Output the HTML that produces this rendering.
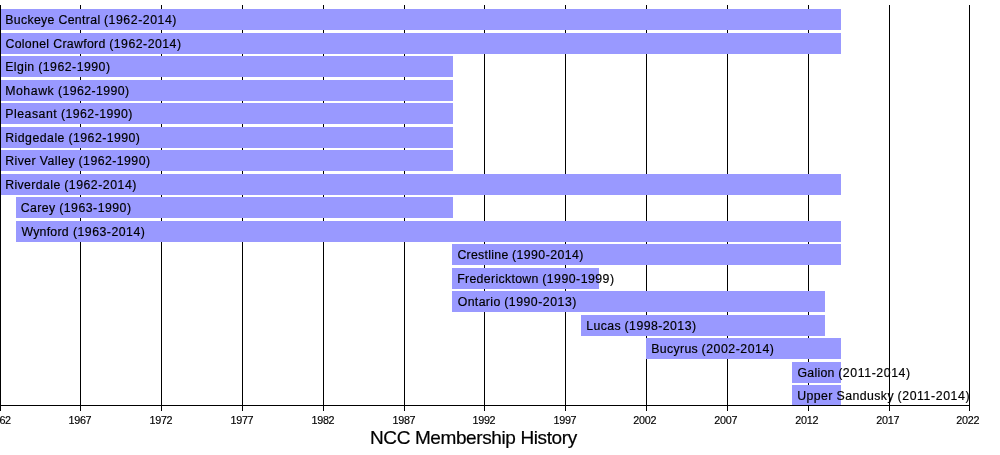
<!DOCTYPE html>
<html><head><meta charset="utf-8"><title>NCC Membership History</title>
<style>html,body{margin:0;padding:0;background:#fff;overflow:hidden}svg{display:block}text{font-family:"Liberation Sans",Arial,Helvetica,sans-serif;fill:#000}</style></head><body>
<svg width="1000" height="455" viewBox="0 0 1000 455">
<rect width="1000" height="455" fill="#fff"/>
<g shape-rendering="crispEdges">
<rect x="80" y="5" width="1" height="406" fill="#000"/>
<rect x="161" y="5" width="1" height="406" fill="#000"/>
<rect x="242" y="5" width="1" height="406" fill="#000"/>
<rect x="323" y="5" width="1" height="406" fill="#000"/>
<rect x="404" y="5" width="1" height="406" fill="#000"/>
<rect x="484" y="5" width="1" height="406" fill="#000"/>
<rect x="565" y="5" width="1" height="406" fill="#000"/>
<rect x="646" y="5" width="1" height="406" fill="#000"/>
<rect x="727" y="5" width="1" height="406" fill="#000"/>
<rect x="808" y="5" width="1" height="406" fill="#000"/>
<rect x="889" y="5" width="1" height="406" fill="#000"/>
<rect x="969" y="5" width="1" height="406" fill="#000"/>
<rect x="0" y="9" width="841" height="21" fill="#9999ff"/>
<rect x="0" y="33" width="841" height="21" fill="#9999ff"/>
<rect x="0" y="56" width="453" height="21" fill="#9999ff"/>
<rect x="0" y="80" width="453" height="21" fill="#9999ff"/>
<rect x="0" y="103" width="453" height="21" fill="#9999ff"/>
<rect x="0" y="127" width="453" height="21" fill="#9999ff"/>
<rect x="0" y="150" width="453" height="21" fill="#9999ff"/>
<rect x="0" y="174" width="841" height="21" fill="#9999ff"/>
<rect x="16" y="197" width="437" height="21" fill="#9999ff"/>
<rect x="16" y="221" width="825" height="21" fill="#9999ff"/>
<rect x="452" y="244" width="389" height="21" fill="#9999ff"/>
<rect x="452" y="268" width="147" height="21" fill="#9999ff"/>
<rect x="452" y="291" width="373" height="21" fill="#9999ff"/>
<rect x="581" y="315" width="244" height="21" fill="#9999ff"/>
<rect x="646" y="338" width="195" height="21" fill="#9999ff"/>
<rect x="792" y="362" width="49" height="21" fill="#9999ff"/>
<rect x="792" y="385" width="49" height="20" fill="#9999ff"/>
<rect x="0" y="5" width="1" height="406" fill="#000"/>
<rect x="0" y="405" width="970" height="1" fill="#000"/>
</g>
<text y="23.70" font-size="12.3" stroke="#000" stroke-width="0.18"><tspan x="5.20" letter-spacing="0.338">Buckeye Central </tspan><tspan x="103.95" letter-spacing="0.550">(1962-2014)</tspan></text>
<text y="47.70" font-size="12.3" stroke="#000" stroke-width="0.18"><tspan x="5.45" letter-spacing="0.328">Colonel Crawford </tspan><tspan x="109.15" letter-spacing="0.490">(1962-2014)</tspan></text>
<text y="70.70" font-size="12.3" stroke="#000" stroke-width="0.18"><tspan x="5.20" letter-spacing="0.415">Elgin </tspan><tspan x="38.15" letter-spacing="0.490">(1962-1990)</tspan></text>
<text y="94.70" font-size="12.3" stroke="#000" stroke-width="0.18"><tspan x="5.20" letter-spacing="0.549">Mohawk </tspan><tspan x="57.95" letter-spacing="0.410">(1962-1990)</tspan></text>
<text y="117.70" font-size="12.3" stroke="#000" stroke-width="0.18"><tspan x="5.20" letter-spacing="0.531">Pleasant </tspan><tspan x="60.95" letter-spacing="0.450">(1962-1990)</tspan></text>
<text y="141.70" font-size="12.3" stroke="#000" stroke-width="0.18"><tspan x="5.20" letter-spacing="0.486">Ridgedale </tspan><tspan x="68.55" letter-spacing="0.430">(1962-1990)</tspan></text>
<text y="164.70" font-size="12.3" stroke="#000" stroke-width="0.18"><tspan x="5.20" letter-spacing="0.426">River Valley </tspan><tspan x="78.55" letter-spacing="0.450">(1962-1990)</tspan></text>
<text y="188.70" font-size="12.3" stroke="#000" stroke-width="0.18"><tspan x="5.20" letter-spacing="0.389">Riverdale </tspan><tspan x="64.15" letter-spacing="0.530">(1962-2014)</tspan></text>
<text y="211.70" font-size="12.3" stroke="#000" stroke-width="0.18"><tspan x="20.85" letter-spacing="0.347">Carey </tspan><tspan x="59.15" letter-spacing="0.490">(1963-1990)</tspan></text>
<text y="235.70" font-size="12.3" stroke="#000" stroke-width="0.18"><tspan x="21.40" letter-spacing="0.257">Wynford </tspan><tspan x="72.95" letter-spacing="0.490">(1963-2014)</tspan></text>
<text y="258.70" font-size="12.3" stroke="#000" stroke-width="0.18"><tspan x="457.45" letter-spacing="0.286">Crestline </tspan><tspan x="511.95" letter-spacing="0.450">(1990-2014)</tspan></text>
<text y="282.70" font-size="12.3" stroke="#000" stroke-width="0.18"><tspan x="457.20" letter-spacing="0.329">Fredericktown </tspan><tspan x="542.15" letter-spacing="0.490">(1990-1999)</tspan></text>
<text y="305.70" font-size="12.3" stroke="#000" stroke-width="0.18"><tspan x="457.70" letter-spacing="0.376">Ontario </tspan><tspan x="504.15" letter-spacing="0.530">(1990-2013)</tspan></text>
<text y="329.70" font-size="12.3" stroke="#000" stroke-width="0.18"><tspan x="586.20" letter-spacing="0.403">Lucas </tspan><tspan x="624.55" letter-spacing="0.450">(1998-2013)</tspan></text>
<text y="352.70" font-size="12.3" stroke="#000" stroke-width="0.18"><tspan x="651.20" letter-spacing="0.352">Bucyrus </tspan><tspan x="701.55" letter-spacing="0.530">(2002-2014)</tspan></text>
<text y="376.70" font-size="12.3" stroke="#000" stroke-width="0.18"><tspan x="797.45" letter-spacing="0.291">Galion </tspan><tspan x="838.15" letter-spacing="0.590">(2011-2014)</tspan></text>
<text y="399.70" font-size="12.3" stroke="#000" stroke-width="0.18"><tspan x="797.20" letter-spacing="0.421">Upper Sandusky </tspan><tspan x="897.55" letter-spacing="0.590">(2011-2014)</tspan></text>
<text x="-0.60" y="423.60" font-size="10.8" text-anchor="middle" letter-spacing="-0.33" stroke="#000" stroke-width="0.15">1962</text>
<text x="79.90" y="423.60" font-size="10.8" text-anchor="middle" letter-spacing="-0.33" stroke="#000" stroke-width="0.15">1967</text>
<text x="160.90" y="423.60" font-size="10.8" text-anchor="middle" letter-spacing="-0.33" stroke="#000" stroke-width="0.15">1972</text>
<text x="241.90" y="423.60" font-size="10.8" text-anchor="middle" letter-spacing="-0.33" stroke="#000" stroke-width="0.15">1977</text>
<text x="322.90" y="423.60" font-size="10.8" text-anchor="middle" letter-spacing="-0.33" stroke="#000" stroke-width="0.15">1982</text>
<text x="403.90" y="423.60" font-size="10.8" text-anchor="middle" letter-spacing="-0.33" stroke="#000" stroke-width="0.15">1987</text>
<text x="483.90" y="423.60" font-size="10.8" text-anchor="middle" letter-spacing="-0.33" stroke="#000" stroke-width="0.15">1992</text>
<text x="564.90" y="423.60" font-size="10.8" text-anchor="middle" letter-spacing="-0.33" stroke="#000" stroke-width="0.15">1997</text>
<text x="644.75" y="423.60" font-size="10.8" text-anchor="middle" letter-spacing="-0.25" stroke="#000" stroke-width="0.15">2002</text>
<text x="725.75" y="423.60" font-size="10.8" text-anchor="middle" letter-spacing="-0.25" stroke="#000" stroke-width="0.15">2007</text>
<text x="806.75" y="423.60" font-size="10.8" text-anchor="middle" letter-spacing="-0.25" stroke="#000" stroke-width="0.15">2012</text>
<text x="887.75" y="423.60" font-size="10.8" text-anchor="middle" letter-spacing="-0.25" stroke="#000" stroke-width="0.15">2017</text>
<text x="967.75" y="423.60" font-size="10.8" text-anchor="middle" letter-spacing="-0.25" stroke="#000" stroke-width="0.15">2022</text>
<text x="473.4" y="443.9" font-size="19" letter-spacing="-0.39" text-anchor="middle" stroke="#000" stroke-width="0.2">NCC Membership History</text>
</svg></body></html>
